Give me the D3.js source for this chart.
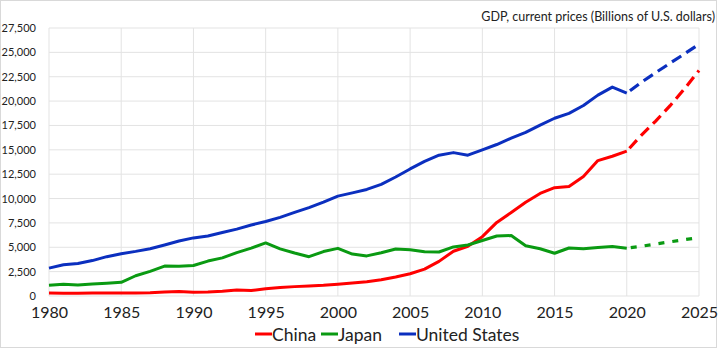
<!DOCTYPE html>
<html><head><meta charset="utf-8">
<script src="https://cdn.jsdelivr.net/npm/d3@7"></script>
<style>body{margin:0;background:#fff}svg{display:block}text{font-family:Lato,"Open Sans",sans-serif;fill:#222}</style>
</head><body><svg id="c" width="720" height="349"></svg>
<script>
const years = d3.range(1980, 2026);
const lastActual = 2020;
const china = [305,290,284,305,315,310,301,327,407,456,397,413,492,619,564,735,864,962,1029,1094,1211,1339,1471,1660,1955,2286,2752,3551,4594,5102,6087,7551,8570,9624,10524,11113,11233,12265,13894,14341,14861,16493,17950,19530,21270,23134];
const japan = [1105,1218,1134,1243,1318,1399,2078,2532,3072,3054,3133,3584,3909,4454,4907,5449,4833,4414,4032,4562,4887,4304,4115,4446,4815,4755,4530,4515,5038,5231,5700,6157,6203,5156,4850,4389,4927,4860,4971,5082,4911,5103,5330,5560,5780,5985];
const usa = [2857,3207,3343,3634,4037,4339,4580,4855,5236,5642,5963,6158,6520,6859,7287,7640,8073,8578,9063,9631,10252,10582,10936,11458,12214,13037,13815,14452,14713,14449,14992,15543,16197,16785,17527,18238,18745,19543,20612,21433,20807,21922,22920,23890,24850,25841];
const yTicks = d3.range(0, 27501, 2500);
const xTicks = d3.range(1980, 2026, 5);
const seriesNames = ["China","Japan","United States"];
const colors = ["#ff0000","#0a9a12","#0b2fbf"];
const dashes = ["11,6","6,8","11,6"];
const title = "GDP, current prices (Billions of U.S. dollars)";

const svg = d3.select("#c");
svg.append("rect").attr("x",0.5).attr("y",0.5).attr("width",716).attr("height",347)
  .attr("fill","#fff").attr("stroke","#d9d9d9");
const x = d3.scaleLinear().domain([1980,2025]).range([49,699]);
const y = d3.scaleLinear().domain([0,27500]).range([296,28]);

const g = svg.append("g");
g.selectAll(".hg").data(yTicks).join("line").attr("x1",49).attr("x2",699)
  .attr("y1",d=>y(d)).attr("y2",d=>y(d)).attr("stroke","#e3e3e3").attr("stroke-width",1);
g.selectAll(".vg").data(xTicks).join("line").attr("y1",28).attr("y2",296)
  .attr("x1",d=>x(d)).attr("x2",d=>x(d)).attr("stroke","#e3e3e3").attr("stroke-width",1);

const yAxis = d3.axisLeft(y).tickValues(yTicks).tickSize(0).tickPadding(13).tickFormat(d3.format(","));
const ya = svg.append("g").attr("transform","translate(49,0)").call(yAxis);
ya.select(".domain").remove();
ya.selectAll("text").style("font-size","11px").attr("fill","#222");

const xAxis = d3.axisBottom(x).tickValues(xTicks).tickSize(0).tickPadding(11).tickFormat(d3.format("d"));
const xa = svg.append("g").attr("transform","translate(0,296)").call(xAxis);
xa.select(".domain").remove();
xa.selectAll("text").style("font-size","16px").attr("fill","#222");

const all = [china, japan, usa];
all.forEach((vals,i)=>{
  const pts = years.map((yr,k)=>({yr, v: vals[k]}));
  const line = d3.line().x(d=>x(d.yr)).y(d=>y(d.v));
  svg.append("path").datum(pts.filter(d=>d.yr<=lastActual)).attr("d",line)
    .attr("fill","none").attr("stroke",colors[i]).attr("stroke-width",3).attr("stroke-linejoin","round");
  svg.append("path").datum(pts.filter(d=>d.yr>=lastActual)).attr("d",line)
    .attr("fill","none").attr("stroke",colors[i]).attr("stroke-width",3.2)
    .attr("stroke-dasharray",dashes[i]).attr("stroke-dashoffset",-4);
});

svg.append("text").attr("x",715).attr("y",21).attr("text-anchor","end")
  .style("font-size","12.5px").text(title);

const legX = [255, 321, 399];
seriesNames.forEach((n,i)=>{
  svg.append("line").attr("x1",legX[i]).attr("x2",legX[i]+17).attr("y1",334).attr("y2",334)
    .attr("stroke",colors[i]).attr("stroke-width",3);
  svg.append("text").attr("x",legX[i]+17).attr("y",341).style("font-size","17.5px").text(n);
});
</script></body></html>
